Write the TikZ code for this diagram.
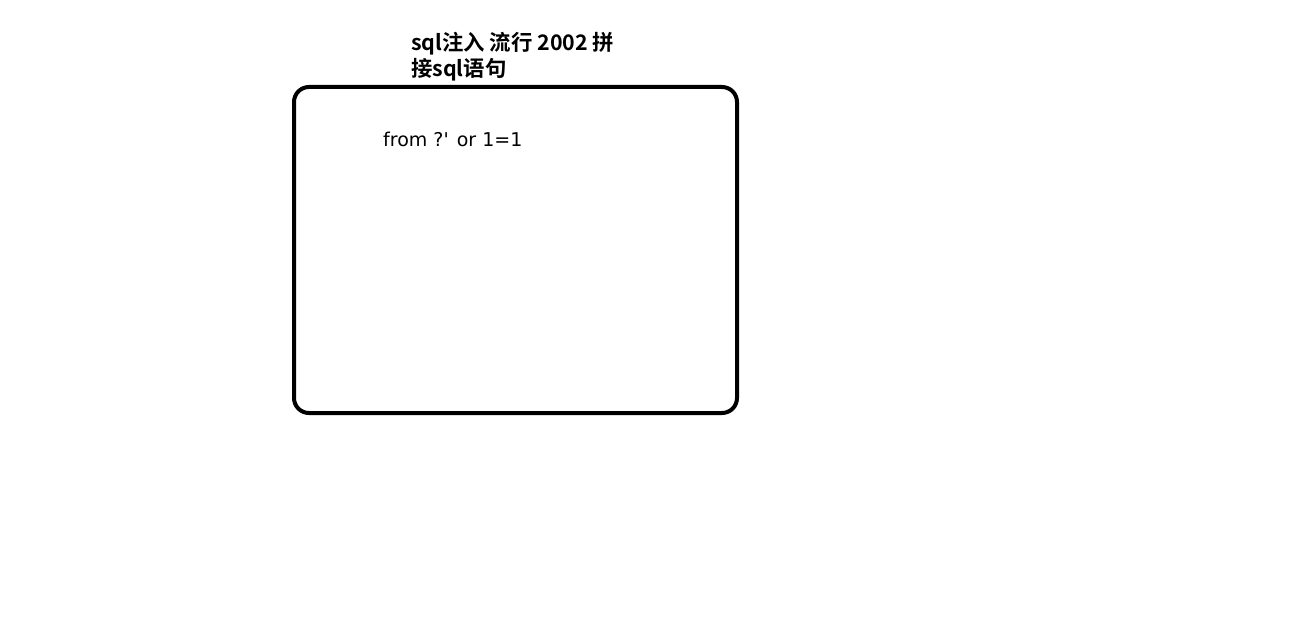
\documentclass[tikz,border=0pt]{standalone}
\usepackage{fontspec}
\setmainfont{Noto Sans CJK SC}[BoldFont={* Bold}]
\newfontfamily\codefont{DejaVu Sans}
\begin{document}
\begin{tikzpicture}[x=1pt,y=-1pt,
  boxstyle/.style={draw=black,line width=4pt,rounded corners=15pt},
  lbl/.style={inner sep=0pt,anchor=base west,font=\fontsize{21.4}{25}\selectfont\bfseries}]
\useasboundingbox (0,0) rectangle (1303,631);
\fill[white] (0,0) rectangle (1303,631);
\draw[boxstyle] (294,87) rectangle (737,413);
\node[lbl] (title1) at (411,51) {sql注入 流行 2002 拼};
\node[lbl] (title2) at (411,77) {接sql语句};
\node[lbl,font=\fontsize{19}{22}\selectfont\codefont] (code) at (383,147) {from ?\textquotesingle{} or 1=1};
\end{tikzpicture}
\end{document}
